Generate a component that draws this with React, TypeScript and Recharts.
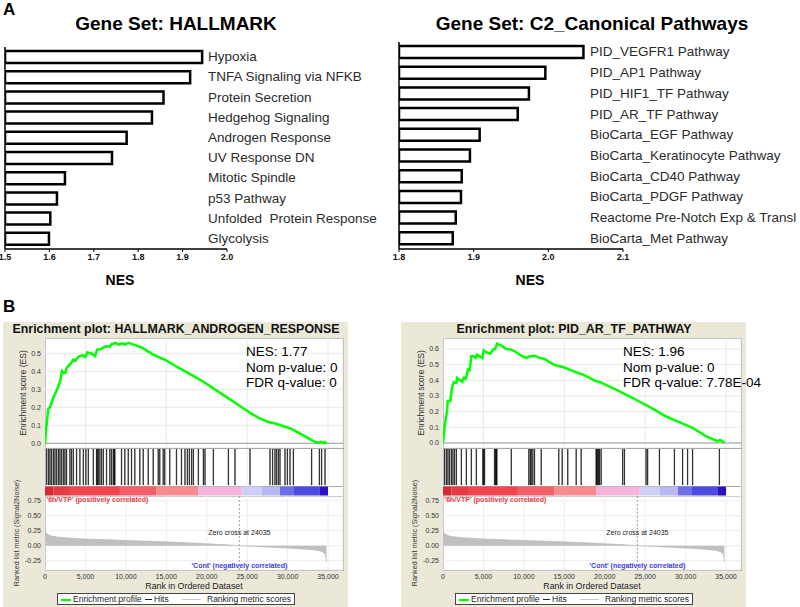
import React from 'react';
import {
  BarChart, Bar, XAxis, YAxis, LineChart, Line, ComposedChart, AreaChart, Area,
  ReferenceLine, ReferenceArea, CartesianGrid, Label,
} from 'recharts';

const FONT = "'Liberation Sans', Arial, Helvetica, sans-serif";
const NARROW = "'Liberation Sans Narrow', 'Arial Narrow', 'Liberation Sans', Arial, sans-serif";
const BEIGE = '#ebe8d8';

// ---------------- Panel A data ----------------
const hallmarkNames = [
  'Hypoxia', 'TNFA Signaling via NFKB', 'Protein Secretion', 'Hedgehog Signaling',
  'Androgen Response', 'UV Response DN', 'Mitotic Spindle', 'p53 Pathway',
  'Unfolded  Protein Response', 'Glycolysis',
];
const hallmarkNES = [1.944, 1.917, 1.857, 1.831, 1.774, 1.741, 1.635, 1.617, 1.602, 1.599];
const hallmarkTicks = [1.5, 1.6, 1.7, 1.8, 1.9, 2.0];

const c2Names = [
  'PID_VEGFR1 Pathway', 'PID_AP1 Pathway', 'PID_HIF1_TF Pathway', 'PID_AR_TF Pathway',
  'BioCarta_EGF Pathway', 'BioCarta_Keratinocyte Pathway', 'BioCarta_CD40 Pathway',
  'BioCarta_PDGF Pathway', 'Reactome Pre-Notch Exp & Transl', 'BioCarta_Met Pathway',
];
const c2NES = [2.047, 1.996, 1.974, 1.959, 1.908, 1.895, 1.884, 1.883, 1.876, 1.872];
const c2Ticks = [1.8, 1.9, 2.0, 2.1];

// ---------------- Panel B data ----------------
const rankTicks = [0, 5000, 10000, 15000, 20000, 25000, 30000, 35000];
const rankMax = 36850;
const zeroCross = 24035;

const androgenES: [number, number][] = [
  [0, 0], [120, 0.07], [400, 0.19], [600, 0.2], [1000, 0.25], [1500, 0.3], [1900, 0.35],
  [2100, 0.4], [2300, 0.39], [2500, 0.39], [2700, 0.42], [3100, 0.44], [3500, 0.465],
  [3800, 0.46], [4100, 0.48], [4600, 0.49], [5000, 0.48], [5250, 0.505], [5800, 0.497],
  [6200, 0.485], [6450, 0.52], [6900, 0.523], [7300, 0.535], [7700, 0.54], [8000, 0.535],
  [8200, 0.55], [8700, 0.558], [9100, 0.548], [9500, 0.555], [9900, 0.55], [10300, 0.558],
  [11000, 0.548], [11800, 0.535], [12600, 0.515], [13400, 0.493], [14000, 0.48],
  [14800, 0.465], [15600, 0.445], [16500, 0.42], [17500, 0.395], [18500, 0.37],
  [19500, 0.345], [20500, 0.315], [21500, 0.285], [22500, 0.255], [23500, 0.225],
  [24500, 0.195], [25500, 0.165], [26500, 0.14], [27500, 0.12], [28500, 0.11],
  [29500, 0.095], [30500, 0.08], [31500, 0.055], [32500, 0.03], [33200, 0.012],
  [33700, 0.003], [34100, 0.008], [34400, 0.002], [34600, 0.008], [34800, 0],
];
const androgenHits = [
  206, 412, 618, 823, 1029, 1235, 1441, 1647, 1853, 2058, 2264, 2470, 2676, 3088, 3294, 3500,
  3911, 4323, 4734, 5064, 5352, 5970, 6381, 6464, 6587, 6793, 6999, 7205, 7616, 8028, 8234,
  8440, 8560, 8646, 9469, 9881, 10292, 10704, 11116, 11733, 12145, 12762, 13380, 13998,
  14203, 14615, 14821, 15438, 16262, 16879, 17314, 17599, 17846, 18143, 18341, 18959,
  19578, 19788, 20815, 22670, 23498, 25354, 27827, 28161, 28446, 28656, 28854, 29064,
  29682, 29967, 30300, 30708, 32984, 33924, 34221, 34629,
];
const androgenTicksES = [0, 0.1, 0.2, 0.3, 0.4, 0.5];
const androgenStats = ['NES: 1.77', 'Nom p-value: 0', 'FDR q-value: 0'];

const arES: [number, number][] = [
  [0, 0], [206, 0.106], [330, 0.149], [495, 0.2], [580, 0.268], [900, 0.268], [1030, 0.32],
  [1155, 0.36], [1320, 0.387], [1650, 0.383], [1730, 0.415], [2060, 0.404], [2390, 0.39],
  [2555, 0.415], [2800, 0.409], [3090, 0.468], [3300, 0.465], [3500, 0.553], [3800, 0.553],
  [4040, 0.543], [4200, 0.564], [4530, 0.553], [4860, 0.543], [5030, 0.591], [5360, 0.579],
  [5850, 0.57], [6180, 0.596], [6450, 0.6], [6680, 0.634], [7210, 0.621], [7830, 0.6],
  [8450, 0.596], [9070, 0.579], [9690, 0.557], [10310, 0.543], [10720, 0.553],
  [11340, 0.557], [11960, 0.543], [12580, 0.536], [13190, 0.515], [14020, 0.494],
  [14840, 0.485], [15670, 0.468], [16490, 0.451], [17320, 0.436], [18140, 0.415],
  [18960, 0.394], [19370, 0.39], [21410, 0.34], [23470, 0.287], [25520, 0.23],
  [27580, 0.17], [29640, 0.123], [30880, 0.096], [32520, 0.043], [33960, 0.011],
  [34250, 0.02], [34580, 0.01], [34800, 0],
];
const arHits = [
  206, 412, 618, 823, 1029, 1235, 1441, 1647, 2264, 2882, 3499, 4117, 4940, 5023, 5146,
  6381, 6505, 6587, 6670, 8440, 10622, 10786, 10910, 11116, 11322, 12145, 14327, 14739,
  15438, 16468, 17085, 18938, 19020, 19144, 19267, 19350, 19555, 22231, 22437, 25113,
  25319, 26760, 28613, 29642, 30259, 30877, 34170,
];
const arTicksES = [0, 0.1, 0.2, 0.3, 0.4, 0.5, 0.6];
const arStats = ['NES: 1.96', 'Nom p-value: 0', 'FDR q-value: 7.78E-04'];

const metricRanks = [
  0, 100, 300, 700, 1500, 3000, 5000, 8000, 11000, 14000, 17000, 20000, 22000, 24035,
  26000, 28000, 30000, 31500, 32800, 33800, 34300, 34600, 34750, 34800,
];
const metricValues = [
  0.27, 0.22, 0.19, 0.165, 0.145, 0.127, 0.112, 0.097, 0.083, 0.068, 0.052, 0.033, 0.018, 0,
  -0.012, -0.025, -0.04, -0.052, -0.065, -0.08, -0.1, -0.13, -0.2, -0.27,
];
const metricTicks = [-0.25, 0, 0.25, 0.5, 0.75];

const colorStops = [0, 1029, 3088, 9263, 13792, 18938, 24330, 26800, 29064, 30700, 34000, 34994];
const colorBarColors = [
  '#d42a36', '#e63a45', '#f0454f', '#f35f68', '#f68a8c', '#f5b4dd', '#cfcff7', '#b7b7f1',
  '#6e6ee8', '#4b4be0', '#2a12c2',
];

const legendLabels = ['Enrichment profile', 'Hits', 'Ranking metric scores'];

// ---------------- helpers ----------------
function T({ x, y, fs, bold, anchor, color, children, rotate }: any) {
  let transform: string | undefined;
  if (rotate) transform = 'translate(-50%, -50%) rotate(-90deg)';
  else if (anchor === 'middle') transform = 'translateX(-50%)';
  return (
    <div
      style={{
        position: 'absolute', left: x, top: rotate ? y : y - fs * 0.49, fontSize: fs,
        lineHeight: `${fs}px`, fontWeight: bold ? 700 : 400, color: color || '#000',
        whiteSpace: 'pre', fontFamily: FONT, transform,
      }}
    >
      {children}
    </div>
  );
}

const catTick = (labelX: number) => (props: any) => (
  <text
    x={labelX} y={props.y} dy="0.3em" fontSize={13.5} fill="#2b2b2b" fontFamily={FONT}
    style={{ whiteSpace: 'pre' }}
  >
    {props.payload.value}
  </text>
);

const nesLabel = (dx: number) => (props: any) => {
  const vb = props.viewBox || { x: 0, y: 0, width: 0 };
  return (
    <text
      x={vb.x + vb.width / 2 + dx} y={vb.y + 36} textAnchor="middle" fontSize={14}
      fontWeight={700} fontFamily={FONT} fill="#000"
    >
      NES
    </text>
  );
};

const rotatedLabel = (text: string, dxFromLeft: number, fontSize: number) => (props: any) => {
  const vb = props.viewBox || { x: 0, y: 0, height: 0 };
  const cx = vb.x + dxFromLeft;
  const cy = vb.y + vb.height / 2;
  return (
    <text
      x={cx} y={cy} transform={`rotate(-90 ${cx} ${cy})`} textAnchor="middle"
      dominantBaseline="central" fontSize={fontSize} fill="#333" fontFamily={FONT}
    >
      {text}
    </text>
  );
};

function NesBarChart({ names, values, ticks, domain, chartLeft, width, margin, labelX, nesDx }: any) {
  const data = names.map((name: string, i: number) => ({ name, nes: values[i] }));
  return (
    <div style={{ position: 'absolute', left: chartLeft, top: 0 }}>
      <BarChart width={width} height={292} data={data} layout="vertical" margin={margin}>
        <XAxis
          type="number" dataKey="nes" domain={domain} ticks={ticks} allowDataOverflow interval={0}
          tickFormatter={(v: number) => v.toFixed(1)}
          axisLine={{ stroke: '#000', strokeWidth: 1.5 }} tickLine={{ stroke: '#000' }}
          tickSize={3} tickMargin={2} height={43}
          tick={{ fontSize: 9, fontFamily: NARROW, fontWeight: 700, fill: '#111' }}
          label={{ content: nesLabel(nesDx) }}
        />
        <YAxis
          type="category" dataKey="name" width={1} interval={0}
          axisLine={{ stroke: '#000', strokeWidth: 1.5 }} tickLine={false} tick={catTick(labelX)}
        />
        <Bar dataKey="nes" fill="#fff" stroke="#000" strokeWidth={2.5} barSize={12} isAnimationActive={false} />
      </BarChart>
    </div>
  );
}

function GseaPanel({ left, title, es, esDomain, esTicks, hits, stats, statsX }: any) {
  const W = 345;
  const esData = es.map(([rank, v]: [number, number]) => ({ rank, es: v }));
  // hit marks span the upper part of the strip; colour bar sits below them
  const hitData = hits.map((rank: number) => ({ rank, span: [0.234, 1] }));
  const metricData = metricRanks.map((rank, i) => ({ rank, m: metricValues[i] }));
  const M = { top: 0, right: 5, bottom: 0, left: 0 };
  const tickStyle = { fontSize: 7, fill: '#333', fontFamily: FONT };
  const line = (top: number) => (
    <div style={{ position: 'absolute', left: 42, top, width: 298, height: 1, background: '#a8a8a8' }} />
  );
  return (
    <div style={{ position: 'absolute', left, top: 322, width: W, height: 285, background: BEIGE }}>
      <T x={173} y={7} fs={12.4} bold anchor="middle" color="#111">{title}</T>
      <div
        style={{
          position: 'absolute', left: 42, top: 16, width: 299, height: 233, background: '#fff',
          border: '1px solid #9c9c9c', boxSizing: 'border-box',
        }}
      />
      {line(126)}
      {line(164)}
      {line(174)}

      <div style={{ position: 'absolute', left: 0, top: 16 }}>
        <LineChart width={W} height={110} data={esData} margin={M}>
          <CartesianGrid stroke="#e9e9e9" />
          <XAxis type="number" dataKey="rank" domain={[0, rankMax]} ticks={rankTicks} allowDataOverflow hide />
          <YAxis
            domain={esDomain} ticks={esTicks} allowDataOverflow width={42} interval={0}
            tickLine={false} axisLine={false} tickSize={0} tickMargin={4} tick={tickStyle}
            tickFormatter={(v: number) => v.toFixed(1)}
            label={{ content: rotatedLabel('Enrichment score (ES)', 20, 8.5) }}
          />
          <ReferenceLine y={0} stroke="#9a9a9a" />
          <Line dataKey="es" type="linear" stroke="#00ff00" strokeWidth={2.5} dot={false} isAnimationActive={false} />
        </LineChart>
      </div>

      <div style={{ position: 'absolute', left: 0, top: 126 }}>
        <ComposedChart width={W} height={48} data={hitData} margin={{ top: 1, right: 5, bottom: 0, left: 42 }}>
          <CartesianGrid stroke="#ededed" horizontal={false} />
          <XAxis type="number" dataKey="rank" domain={[0, rankMax]} ticks={rankTicks} allowDataOverflow hide />
          <YAxis hide domain={[0, 1]} allowDataOverflow />
          {colorBarColors.map((c, i) => (
            <ReferenceArea
              key={i} x1={colorStops[i]} x2={colorStops[i + 1]} y1={0.01} y2={0.2}
              fill={c} fillOpacity={1} stroke="none"
            />
          ))}
          <Bar dataKey="span" fill="#000" stroke="#000" strokeWidth={0.4} barSize={1} isAnimationActive={false} />
        </ComposedChart>
      </div>

      <div style={{ position: 'absolute', left: 0, top: 174 }}>
        <AreaChart width={W} height={95} data={metricData} margin={M}>
          <CartesianGrid stroke="#ededed" />
          <XAxis
            type="number" dataKey="rank" domain={[0, rankMax]} ticks={rankTicks} allowDataOverflow interval={0}
            tickLine={false} axisLine={false} tickSize={0} tickMargin={4} height={21} tick={tickStyle}
            tickFormatter={(v: number) => v.toLocaleString('en-US')}
          >
            <Label value="Rank in Ordered Dataset" position="insideBottom" offset={2} fontSize={8.8} fill="#222" fontFamily={FONT} />
          </XAxis>
          <YAxis
            domain={[-0.405, 0.828]} ticks={metricTicks} allowDataOverflow width={42} interval={0}
            tickLine={false} axisLine={false} tickSize={0} tickMargin={4} tick={tickStyle}
            tickFormatter={(v: number) => v.toFixed(2)}
          />
          <Area
            dataKey="m" type="linear" stroke="#b3b3b3" strokeWidth={0.6} fill="#c0c0c0" fillOpacity={1}
            isAnimationActive={false}
          />
          <ReferenceLine x={0} stroke="none">
            <Label
              value="'6h/VTP' (positively correlated)" position="insideTopLeft" offset={1.5}
              fontSize={7} fontWeight={700} fill="#e8383d" fontFamily={FONT}
            />
          </ReferenceLine>
          <ReferenceLine x={zeroCross} stroke="#a0a0a0" strokeDasharray="2 2">
            <Label value={`Zero cross at ${zeroCross}`} position="center" fontSize={7} fill="#222" fontFamily={FONT} />
            <Label
              value="'Cont' (negatively correlated)" position="insideBottom" offset={2.5}
              fontSize={7} fontWeight={700} fill="#3d3de0" fontFamily={FONT}
            />
          </ReferenceLine>
        </AreaChart>
      </div>

      <T x={14} y={211} fs={7.2} rotate color="#333">Ranked list metric (Signal2Noise)</T>

      {stats.map((s: string, i: number) => (
        <T key={s} x={statsX} y={30 + i * 15.5} fs={13.5}>{s}</T>
      ))}

      <div
        style={{
          position: 'absolute', left: 54, top: 271, width: 238, height: 12, background: '#fff',
          border: '1px solid #444', boxSizing: 'border-box', fontFamily: FONT,
        }}
      >
        <div style={{ position: 'absolute', left: 3, top: 4.5, width: 10, height: 2, background: '#00ff00' }} />
        <T x={15} y={5.5} fs={8.5} color="#222">{legendLabels[0]}</T>
        <div style={{ position: 'absolute', left: 87, top: 5, width: 7, height: 1, background: '#222' }} />
        <T x={96} y={5.5} fs={8.5} color="#222">{legendLabels[1]}</T>
        <div style={{ position: 'absolute', left: 124, top: 5, width: 19, height: 1, background: '#c8c8c8' }} />
        <T x={149} y={5.5} fs={8.5} color="#222">{legendLabels[2]}</T>
      </div>
    </div>
  );
}

export default function App() {
  return (
    <div
      style={{
        position: 'absolute', left: 0, top: 0, width: 800, height: 607, overflow: 'hidden',
        background: '#fff', fontFamily: FONT,
      }}
    >
      <NesBarChart
        names={hallmarkNames} values={hallmarkNES} ticks={hallmarkTicks} domain={[1.5, 2.0]}
        chartLeft={0} width={400} margin={{ top: 47, right: 173, bottom: 0, left: 4 }}
        labelX={208} nesDx={4}
      />
      <NesBarChart
        names={c2Names} values={c2NES} ticks={c2Ticks} domain={[1.8, 2.1]}
        chartLeft={390} width={410} margin={{ top: 42, right: 177, bottom: 0, left: 8 }}
        labelX={200} nesDx={19}
      />
      <T x={3} y={9.5} fs={17} bold>A</T>
      <T x={176} y={23} fs={19} bold anchor="middle">Gene Set: HALLMARK</T>
      <T x={592} y={23} fs={19} bold anchor="middle">Gene Set: C2_Canonical Pathways</T>
      <T x={3} y={306} fs={17} bold>B</T>

      <GseaPanel
        left={3} title="Enrichment plot: HALLMARK_ANDROGEN_RESPONSE" es={androgenES}
        esDomain={[-0.026, 0.585]} esTicks={androgenTicksES} hits={androgenHits}
        stats={androgenStats} statsX={243}
      />
      <GseaPanel
        left={401} title="Enrichment plot: PID_AR_TF_PATHWAY" es={arES}
        esDomain={[-0.032, 0.67]} esTicks={arTicksES} hits={arHits}
        stats={arStats} statsX={222}
      />
    </div>
  );
}
